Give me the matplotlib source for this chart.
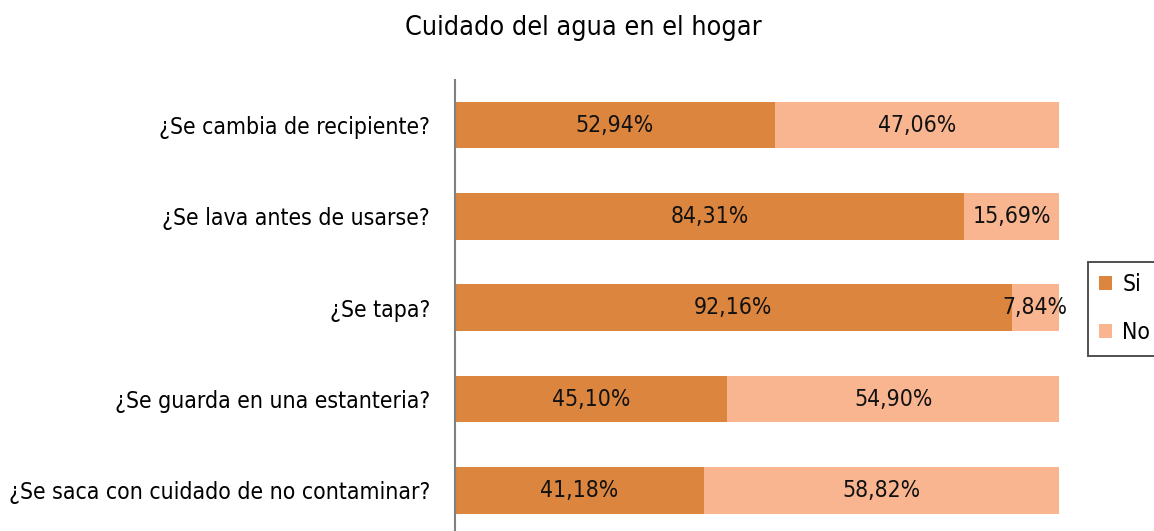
import matplotlib
matplotlib.use("Agg")
import matplotlib.pyplot as plt

categories = [
    "¿Se cambia de recipiente?",
    "¿Se lava antes de usarse?",
    "¿Se tapa?",
    "¿Se guarda en una estanteria?",
    "¿Se saca con cuidado de no contaminar?",
]
si_values = [52.94, 84.31, 92.16, 45.10, 41.18]
no_values = [47.06, 15.69, 7.84, 54.90, 58.82]
series_names = ["Si", "No"]
title = "Cuidado del agua en el hogar"

si_color = "#DC853F"
no_color = "#F9B58F"

plt.rcParams["font.family"] = "DejaVu Sans"
plt.rcParams["font.stretch"] = "condensed"

fs = 16.5
fig = plt.figure(figsize=(11.54, 5.31), dpi=100)
ax = fig.add_axes([455 / 1154, 1 - 536 / 531, (1059 - 455) / 1154, (536 - 79.5) / 531])

ypos = list(range(len(categories)))[::-1]
bh = 0.51
bars_si = ax.barh(ypos, si_values, height=bh, color=si_color, label=series_names[0])
bars_no = ax.barh(ypos, no_values, left=si_values, height=bh, color=no_color, label=series_names[1])

def fmt(v):
    return f"{v:.2f}".replace(".", ",") + "%"

for y, s, n in zip(ypos, si_values, no_values):
    ax.text(s / 2, y, fmt(s), ha="center", va="center", fontsize=fs, color="#111111")
    ax.text(s + n / 2, y, fmt(n), ha="center", va="center", fontsize=fs, color="#111111")

ax.set_xlim(0, 100)
ax.set_ylim(-0.5, len(categories) - 0.5)
ax.set_yticks(ypos)
ax.set_yticklabels(categories, fontsize=fs)
ax.tick_params(axis="y", length=0, pad=18)
ax.set_xticks([])
for side in ["top", "right", "bottom"]:
    ax.spines[side].set_visible(False)
ax.spines["left"].set_color("#808080")
ax.spines["left"].set_linewidth(1.5)

fig.text(583.5 / 1154, 1 - 28 / 531, title, ha="center", va="center", fontsize=19.4)

leg = fig.legend(handles=[bars_si, bars_no], labels=series_names,
                 loc="upper left", bbox_to_anchor=(1088 / 1154, 1 - 262 / 531),
                 fontsize=fs, frameon=True, fancybox=False, handlelength=0.55,
                 handleheight=0.55, handletextpad=0.45, labelspacing=1.08,
                 borderpad=0.5, borderaxespad=0)
leg.get_frame().set_edgecolor("#222222")
leg.get_frame().set_linewidth(1.4)

fig.savefig("out.png", dpi=100)
